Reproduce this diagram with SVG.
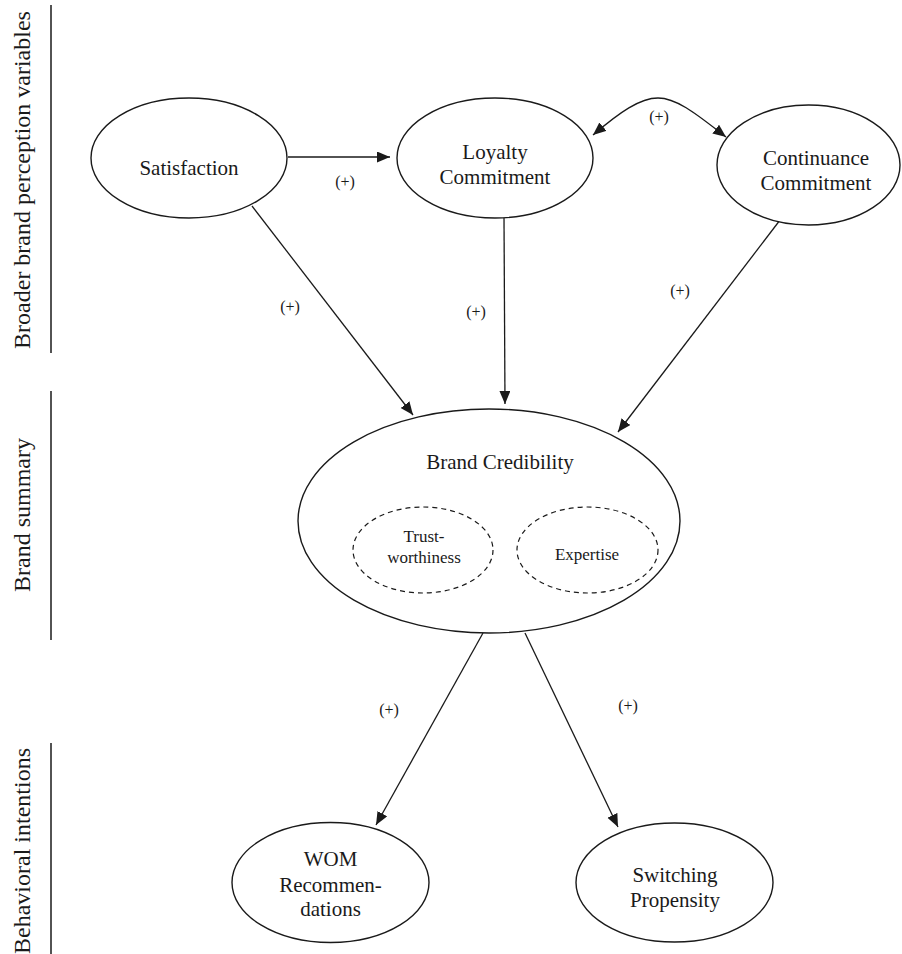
<svg xmlns="http://www.w3.org/2000/svg" width="902" height="954" viewBox="0 0 902 954">
<style>
text{font-family:"Liberation Serif","Times New Roman",serif;fill:#1a1a1a;text-anchor:middle}
.n{font-size:21px}
.s{font-size:17px}
.p{font-size:16px}
.side{font-size:24px}
.node{fill:#fff;stroke:#1a1a1a;stroke-width:1.4}
.dash{fill:none;stroke:#1a1a1a;stroke-width:1.2;stroke-dasharray:5 4}
.c{fill:none;stroke:#1a1a1a;stroke-width:1.3}
.bar{stroke:#1a1a1a;stroke-width:1.5}
</style>
<defs>
<marker id="ah" markerUnits="userSpaceOnUse" markerWidth="14" markerHeight="12" refX="13" refY="5.5" orient="auto-start-reverse">
<path d="M0,0 L13,5.5 L0,11 z" fill="#1a1a1a"/>
</marker>
</defs>
<rect width="902" height="954" fill="#fff"/>
<g id="sidebar">
<line class="bar" x1="51" y1="5" x2="51" y2="353"/>
<line class="bar" x1="51" y1="391" x2="51" y2="640"/>
<line class="bar" x1="51" y1="743" x2="51" y2="954"/>
<text class="side" transform="translate(30,180) rotate(-90)">Broader brand perception variables</text>
<text class="side" transform="translate(30,515) rotate(-90)">Brand summary</text>
<text class="side" transform="translate(30,851) rotate(-90)">Behavioral intentions</text>
</g>
<g id="connectors">
<line class="c" x1="288" y1="157" x2="390" y2="157" marker-end="url(#ah)"/>
<line class="c" x1="252" y1="206" x2="413" y2="415" marker-end="url(#ah)"/>
<line class="c" x1="504" y1="218" x2="505" y2="404" marker-end="url(#ah)"/>
<line class="c" x1="790" y1="207" x2="618" y2="432" marker-end="url(#ah)"/>
<path class="c" d="M593,135 C620,112 640,98 658,98 C678,98 700,117 726,137" marker-start="url(#ah)" marker-end="url(#ah)"/>
<line class="c" x1="483" y1="633" x2="376" y2="825" marker-end="url(#ah)"/>
<line class="c" x1="525" y1="633" x2="618" y2="827" marker-end="url(#ah)"/>
<text class="p" x="345" y="187">(+)</text>
<text class="p" x="659" y="122">(+)</text>
<text class="p" x="290" y="312">(+)</text>
<text class="p" x="476" y="317">(+)</text>
<text class="p" x="680" y="296">(+)</text>
<text class="p" x="389" y="715">(+)</text>
<text class="p" x="628" y="711">(+)</text>
</g>
<g id="satisfaction">
<ellipse class="node" cx="189" cy="158" rx="98" ry="60"/>
<text class="n" x="189" y="175">Satisfaction</text>
</g>
<g id="loyalty">
<ellipse class="node" cx="495" cy="158" rx="98" ry="60"/>
<text class="n" x="495" y="159">Loyalty</text>
<text class="n" x="495" y="184">Commitment</text>
</g>
<g id="continuance">
<ellipse class="node" cx="808.5" cy="165" rx="91.5" ry="60"/>
<text class="n" x="816" y="165">Continuance</text>
<text class="n" x="816" y="190">Commitment</text>
</g>
<g id="brand-credibility">
<ellipse class="node" cx="489" cy="521" rx="191" ry="112"/>
<text class="n" x="500" y="469">Brand Credibility</text>
</g>
<g id="trustworthiness">
<ellipse class="dash" cx="423" cy="550" rx="70" ry="43"/>
<text class="s" x="424" y="542">Trust-</text>
<text class="s" x="424" y="563">worthiness</text>
</g>
<g id="expertise">
<ellipse class="dash" cx="587.5" cy="550" rx="70.5" ry="43"/>
<text class="s" x="587" y="560">Expertise</text>
</g>
<g id="wom">
<ellipse class="node" cx="330.5" cy="882.5" rx="98.5" ry="60"/>
<text class="n" x="330.5" y="866">WOM</text>
<text class="n" x="330.5" y="892">Recommen-</text>
<text class="n" x="330.5" y="916">dations</text>
</g>
<g id="switching">
<ellipse class="node" cx="674.5" cy="882.5" rx="98.5" ry="59.5"/>
<text class="n" x="675" y="882">Switching</text>
<text class="n" x="675" y="907">Propensity</text>
</g>
</svg>
